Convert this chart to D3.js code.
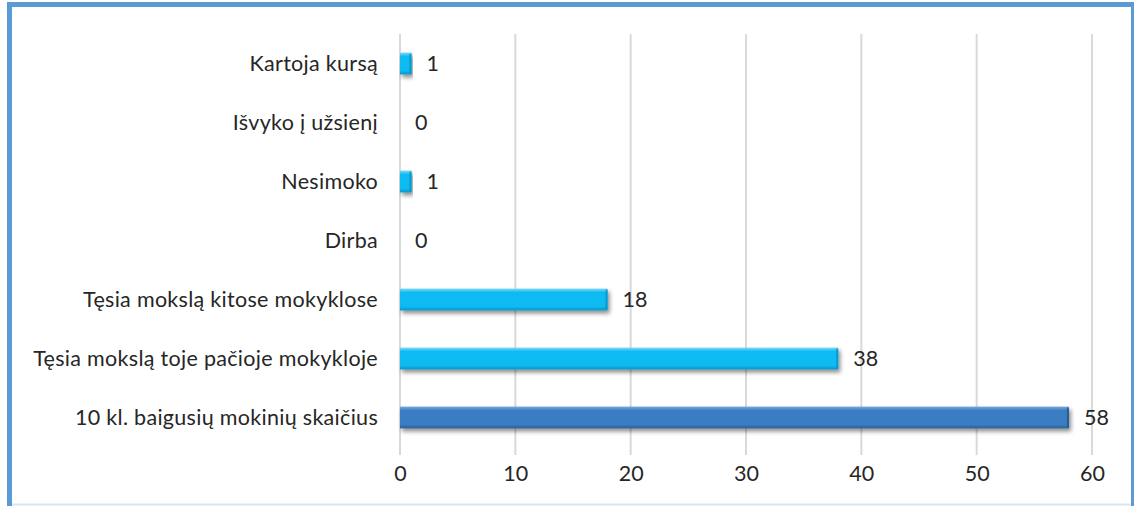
<!DOCTYPE html>
<html>
<head>
<meta charset="utf-8">
<script src="https://cdn.jsdelivr.net/npm/d3@7"></script>
<style>
  body { margin: 0; background: #fff; }
  svg { display: block; }
  text { font-family: Lato, "Open Sans", sans-serif; fill: #262626; }
</style>
</head>
<body>
<svg id="chart" width="1134" height="506"></svg>
<script>
// data, top to bottom as shown
const categories = [
  "Kartoja kursą",
  "Išvyko į užsienį",
  "Nesimoko",
  "Dirba",
  "Tęsia mokslą kitose mokyklose",
  "Tęsia mokslą toje pačioje mokykloje",
  "10 kl. baigusių mokinių skaičius"
];
const values = [1, 0, 1, 0, 18, 38, 58];
const xTicks = [0, 10, 20, 30, 40, 50, 60];

const width = 1134, height = 506;
const margin = { top: 34, right: 42, bottom: 59, left: 400 };
const fontSize = 21.5;

const svg = d3.select('#chart');

// frame
svg.append('rect')
  .attr('x', 9.5).attr('y', 4.5)
  .attr('width', 1124).attr('height', 520)
  .attr('fill', '#fff')
  .attr('stroke', '#5b9bd5').attr('stroke-width', 5);
svg.append('line')
  .attr('x1', 12).attr('x2', 1131).attr('y1', 504.5).attr('y2', 504.5)
  .attr('stroke', '#dbe5f1').attr('stroke-width', 2);

const defs = svg.append('defs');
const shadow = defs.append('filter').attr('id', 'shadow')
  .attr('x', '-5%').attr('y', '-30%').attr('width', '115%').attr('height', '180%');
shadow.append('feDropShadow')
  .attr('dx', 2).attr('dy', 3).attr('stdDeviation', 2.2)
  .attr('flood-color', '#000').attr('flood-opacity', 0.45);

function barGradient(id, light, mid, dark) {
  const g = defs.append('linearGradient').attr('id', id)
    .attr('x1', 0).attr('x2', 0).attr('y1', 0).attr('y2', 1);
  g.append('stop').attr('offset', '0%').attr('stop-color', light);
  g.append('stop').attr('offset', '18%').attr('stop-color', mid);
  g.append('stop').attr('offset', '82%').attr('stop-color', mid);
  g.append('stop').attr('offset', '100%').attr('stop-color', dark);
}
barGradient('gLight', '#7fd8f8', '#0fbaf1', '#0a93c4');
barGradient('gDark', '#7aaadb', '#3a7dc2', '#2b5f97');

const x = d3.scaleLinear()
  .domain([0, 60])
  .range([margin.left, width - margin.right]);

const y = d3.scaleBand()
  .domain(categories)
  .range([margin.top, height - margin.bottom])
  .paddingInner(0.63)
  .paddingOuter(0.315);

// gridlines
svg.append('g')
  .selectAll('line')
  .data(xTicks)
  .join('line')
  .attr('x1', d => x(d)).attr('x2', d => x(d))
  .attr('y1', margin.top).attr('y2', height - margin.bottom + 8)
  .attr('stroke', '#d9d9d9').attr('stroke-width', 2);

// bars
const bars = svg.append('g');
values.forEach((v, i) => {
  if (v <= 0) return;
  const last = i === values.length - 1;
  bars.append('rect')
    .attr('x', x(0))
    .attr('y', y(categories[i]))
    .attr('width', x(v) - x(0))
    .attr('height', y.bandwidth())
    .attr('fill', last ? 'url(#gDark)' : 'url(#gLight)')
    .attr('filter', 'url(#shadow)');
  // darker end cap
  bars.append('rect')
    .attr('x', x(v) - 2)
    .attr('y', y(categories[i]) + 1)
    .attr('width', 2)
    .attr('height', y.bandwidth() - 2)
    .attr('fill', last ? '#24548a' : '#0a8fbf')
    .attr('opacity', 0.8);
});

// value labels
svg.append('g')
  .selectAll('text')
  .data(values)
  .join('text')
  .attr('x', d => x(d) + 15)
  .attr('y', (d, i) => y(categories[i]) + y.bandwidth() / 2)
  .attr('dy', '0.36em')
  .attr('font-size', fontSize)
  .text(d => d);

// category labels
svg.append('g')
  .selectAll('text')
  .data(categories)
  .join('text')
  .attr('x', margin.left - 22)
  .attr('y', d => y(d) + y.bandwidth() / 2)
  .attr('dy', '0.36em')
  .attr('text-anchor', 'end')
  .attr('font-size', fontSize)
  .attr('letter-spacing', 0.3)
  .text(d => d);

// x axis labels
const xAxis = svg.append('g')
  .attr('transform', `translate(0,${height - margin.bottom})`)
  .call(d3.axisBottom(x).tickValues(xTicks).tickSize(0).tickPadding(19));
xAxis.select('.domain').remove();
xAxis.selectAll('text')
  .attr('font-size', fontSize)
  .attr('font-family', 'Lato, "Open Sans", sans-serif')
  .attr('fill', '#262626');
</script>
</body>
</html>
